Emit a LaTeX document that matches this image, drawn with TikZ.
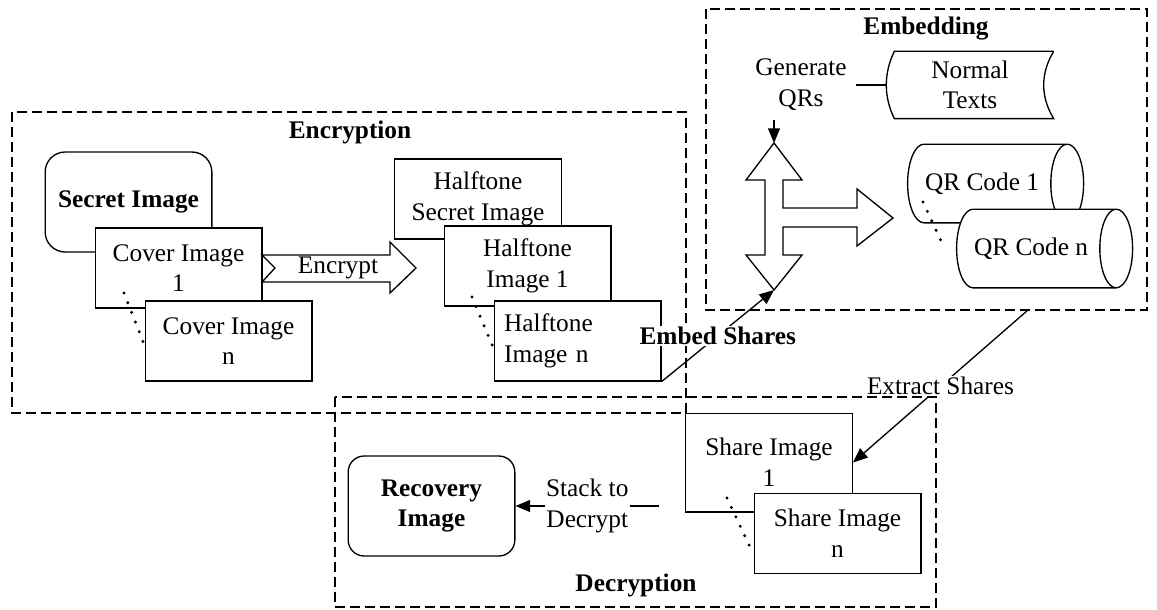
\documentclass[tikz,border=0pt]{standalone}
\usepackage{fontspec}
\setmainfont{Liberation Serif}
\usetikzlibrary{arrows.meta,shapes.geometric}
\begin{document}
\fontsize{19}{23}\selectfont
\begin{tikzpicture}[x=.75pt, y=-.75pt, line width=1pt, >={Triangle[length=11pt,width=9pt]},
	frame/.style={dash pattern=on 7.5pt off 3.75pt},
	box/.style={draw, fill=white, minimum width=125pt, minimum height=60pt, align=center, inner sep=2pt},
	rbox/.style={box, rounded corners=12pt, minimum height=75pt, font=\bfseries},
	qr/.style={draw, fill=white, cylinder, aspect=.85, minimum height=132pt, minimum width=59pt},
	dots/.style={line width=2.5pt, line cap=round, dash pattern=on 0pt off 7.8pt},
	lab/.style={fill=white, inner sep=1pt, align=center}]
	\useasboundingbox (0,0) rectangle (1157,610);
	% the three stages
	\draw[frame] (12,112) rectangle (686,413);
	\draw[frame] (706,9) rectangle (1147,310);
	\draw[frame] (335,397) rectangle (936,607);
	\node[font=\bfseries] (encl) at (350,132) {Encryption};
	\node[font=\bfseries] (embl) at (926,29) {Embedding};
	\node[font=\bfseries] (decl) at (636,585) {Decryption};
	% encryption
	\node[rbox, rounded corners=15pt] (secret) at (128.5,202) {Secret Image};
	\node[box] (cover1) at (178.5,268) {Cover Image\\1};
	\node[box] (covern) at (228.5,341) {Cover Image\\n};
	\draw[fill=white] (262,255) -- (390,255) -- (390,242) -- (416,268) -- (390,293) -- (390,282) -- (262,282) -- (275,268) -- cycle;
	\node (enc) at (338,268) {Encrypt};
	\node[box] (htsec) at (478,199) {Halftone\\Secret Image};
	\node[box] (ht1) at (527.5,266) {Halftone\\Image 1};
	\node[box, align=left, text width=110pt, inner xsep=7.5pt] (htn) at (577.5,341) {Halftone\\Image n};
	% embedding
	\node[align=center] (gen) at (801,85) {Generate\\QRs};
	\node[minimum width=124.5pt, minimum height=49.5pt, align=center] (texts) at (970,85) {Normal\\Texts};
	\draw (texts.north east) -- ([xshift=6pt]texts.north west) .. controls +(-10.7,22) and +(-10.7,-22) .. ([xshift=6pt]texts.south west)
		-- (texts.south east) .. controls +(-13.3,-22) and +(-13.3,22) .. (texts.north east);
	\draw (gen.east) -- (texts.west);
	\node[qr] (qr1) at (982,183.5) {QR Code 1};
	\node[qr] (qrn) at (1031,248.5) {QR Code n};
	\coordinate (qtop) at (774,143);
	\coordinate (qbot) at (774,290);
	\draw[fill=white] (qtop) -- (802,180) -- (783,180) -- (783,208) -- (857,208) -- (857,189) -- (893,218) -- (857,246) -- (857,227)
		-- (783,227) -- (783,255) -- (802,255) -- (qbot) -- (746,255) -- (765,255) -- (765,180) -- (746,180) -- cycle;
	% decryption
	\node[rbox] (recov) at (431.5,506) {Recovery\\Image};
	\node[box, minimum height=74pt] (share1) at (769,462.5) {Share Image\\1};
	\node[box] (sharen) at (837.5,533.5) {Share Image\\n};
	\foreach \xa/\ya/\xb/\yb in {124/293/144/344, 472/297/493/347, 923/202/941/241, 727/498/750/547}
		\draw[dots] (\xa,\ya) -- (\xb,\yb);
	% connectors
	\coordinate (ex) at (1028,310);
	\coordinate (st) at (659,506);
	\draw[->] (qtop |- gen.south) -- (qtop);
	\draw[->] (htn.south east) -- (qbot) node[lab, pos=.5, font=\bfseries] {Embed Shares};
	\draw[->] (ex) -- (share1.east) node[lab, pos=.5] {Extract Shares};
	\draw[->] (st) -- (recov.east) node[lab, pos=.5] {Stack to\\Decrypt};
\end{tikzpicture}
\end{document}
